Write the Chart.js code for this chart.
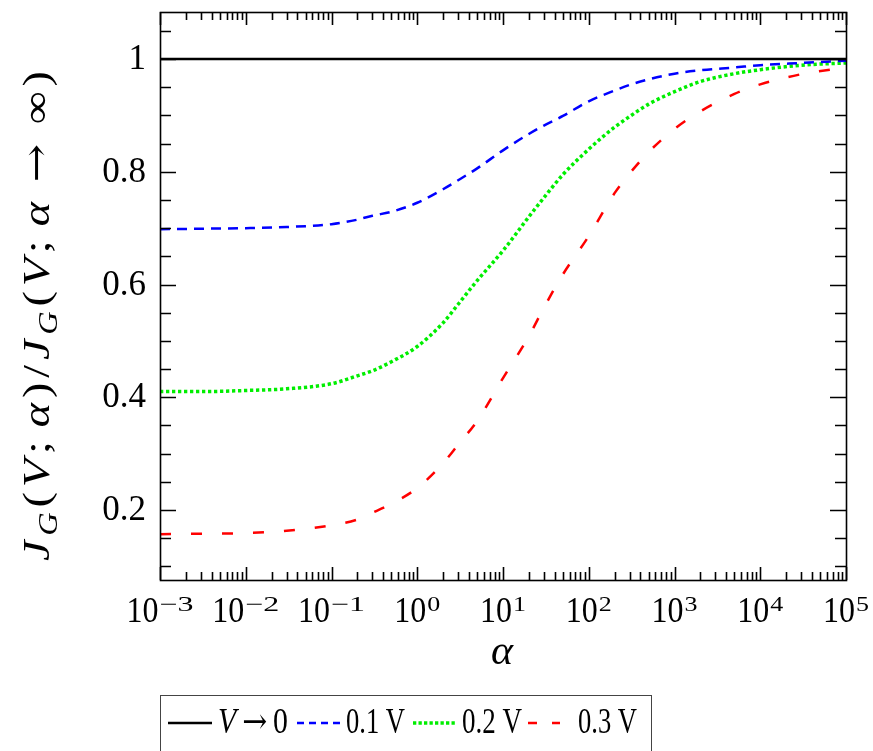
<!DOCTYPE html>
<html>
<head>
<meta charset="utf-8">
<script src="https://cdn.jsdelivr.net/npm/chart.js@4.4.1/dist/chart.umd.min.js"></script>
<style>
  html, body { margin: 0; padding: 0; background: #fff; }
  #wrap { width: 873px; height: 751px; }
</style>
</head>
<body>
<div id="wrap"><canvas id="chart" width="873" height="751"></canvas></div>
<script>
// alpha values (log axis) and the normalised currents
var alphaValues = [0.001, 0.003, 0.01, 0.03, 0.1, 0.2, 0.3, 0.5, 1, 2, 3, 5, 10, 20, 30, 50,
                   100, 200, 300, 500, 1000, 2000, 5000, 10000, 30000, 100000];
var ratioV0  = [1, 1, 1, 1, 1, 1, 1, 1, 1, 1, 1, 1, 1, 1, 1, 1, 1, 1, 1, 1, 1, 1, 1, 1, 1, 1];
var ratio01V = [0.698, 0.699, 0.700, 0.702, 0.707, 0.715, 0.722, 0.729, 0.745, 0.769, 0.785, 0.806, 0.838,
                0.867, 0.882, 0.899, 0.925, 0.944, 0.954, 0.964, 0.974, 0.980, 0.985, 0.989, 0.993, 0.997];
var ratio02V = [0.410, 0.410, 0.412, 0.415, 0.424, 0.438, 0.447, 0.463, 0.490, 0.532, 0.565, 0.607, 0.660,
                0.720, 0.754, 0.795, 0.840, 0.879, 0.898, 0.920, 0.942, 0.960, 0.974, 0.981, 0.989, 0.993];
var ratio03V = [0.157, 0.158, 0.159, 0.163, 0.173, 0.183, 0.195, 0.211, 0.239, 0.283, 0.316, 0.358, 0.434,
                0.508, 0.559, 0.618, 0.686, 0.762, 0.797, 0.835, 0.876, 0.907, 0.938, 0.955, 0.973, 0.985];

var xTickExponents = [-3, -2, -1, 0, 1, 2, 3, 4, 5];
var yTickLabels = [0.2, 0.4, 0.6, 0.8, 1];

var FONT = '"Liberation Serif", "DejaVu Serif", serif';
var ARROW_FONT = '"DejaVu Serif", serif';

function toPoints(ys) {
    return alphaValues.map(function (a, i) { return { x: a, y: ys[i] }; });
}

// draw a list of runs: [text, italic, script(0 normal, -1 sub, 1 sup), family]
function drawRuns(ctx, runs, x, y, size, measureOnly, gap) {
    var cx = x;
    gap = gap || 0;
    runs.forEach(function (r, i) {
        var s = r[2] ? size * 0.7 : size;
        ctx.font = (r[1] ? 'italic ' : '') + s + 'px ' + (r[3] || FONT);
        var dy = r[2] === -1 ? size * 0.22 : (r[2] === 1 ? -size * 0.38 : 0);
        if (!measureOnly) ctx.fillText(r[0], cx, y + dy);
        cx += ctx.measureText(r[0]).width + (i < runs.length - 1 ? gap : 0);
    });
    return cx - x;
}

// same, scaled horizontally to a given width (the TeX figure is not square-pixelled)
function drawRunsFit(ctx, runs, x, y, size, targetW, gap) {
    var w = drawRuns(ctx, runs, 0, 0, size, true, gap);
    ctx.save();
    ctx.translate(x, y);
    ctx.scale(targetW / w, 1);
    drawRuns(ctx, runs, 0, 0, size, false, gap);
    ctx.restore();
}

var axisPlugin = {
    id: 'axisPlugin',
    afterDraw: function (chart) {
        var ctx = chart.ctx;
        var a = chart.chartArea;
        var xs = chart.scales.x, ys = chart.scales.y;
        ctx.save();
        ctx.strokeStyle = '#000';
        ctx.fillStyle = '#000';
        ctx.lineWidth = 1.6;

        // inward ticks, x (log)
        ctx.beginPath();
        for (var e = -3; e <= 5; e++) {
            for (var m = 1; m <= 9; m++) {
                var v = m * Math.pow(10, e);
                if (v > 1e5 * 1.0001) break;
                var px = Math.round(xs.getPixelForValue(v)) + 0.5;
                var len = m === 1 ? 13 : 8;
                ctx.moveTo(px, a.bottom); ctx.lineTo(px, a.bottom - len);
                ctx.moveTo(px, a.top); ctx.lineTo(px, a.top + len);
            }
        }
        // inward ticks, y every 0.05
        for (var k = 2; k <= 21; k++) {
            var val = k * 0.05;
            var py = Math.round(ys.getPixelForValue(val)) + 0.5;
            var l2 = (k % 4 === 0) ? 16 : 11;
            ctx.moveTo(a.left, py); ctx.lineTo(a.left + l2, py);
            ctx.moveTo(a.right, py); ctx.lineTo(a.right - l2, py);
        }
        ctx.stroke();

        // frame
        ctx.strokeRect(a.left + 0.5, a.top + 0.5, a.right - a.left, a.bottom - a.top);

        // x tick labels 10^e
        ctx.textBaseline = 'alphabetic';
        ctx.textAlign = 'left';
        xTickExponents.forEach(function (ex) {
            var cx = xs.getPixelForValue(Math.pow(10, ex));
            var supW = ex < 0 ? 34 : 13;
            var left = cx - (32 + 1 + supW) / 2;
            drawRunsFit(ctx, [['10', false, 0]], left, 622, 36, 32);
            drawRunsFit(ctx, [[(ex < 0 ? '\u2212' : '') + Math.abs(ex), false, 0]], left + 33, 611, 21, supW);
        });

        // y tick labels
        ctx.font = '35px ' + FONT;
        ctx.textAlign = 'right';
        ctx.textBaseline = 'middle';
        yTickLabels.forEach(function (v) {
            ctx.fillText(String(v), 146, ys.getPixelForValue(v) + 1);
        });

        // x title
        ctx.textAlign = 'center';
        ctx.textBaseline = 'alphabetic';
        ctx.font = 'italic 42px ' + FONT;
        ctx.fillText('\u03b1', 502, 664);
        ctx.textAlign = 'left';

        // y title (rotated)
        var titleRuns = [['J', true, 0], ['G', true, -1], ['(', false, 0], ['V', true, 0], [';\u2009', false, 0],
                         ['\u03b1', true, 0], [')', false, 0], ['/', false, 0], ['J', true, 0], ['G', true, -1],
                         ['(', false, 0], ['V', true, 0], [';\u2009', false, 0], ['\u03b1', true, 0],
                         [' \u2192 ', false, 0, ARROW_FONT], ['\u221e', false, 0], [')', false, 0]];
        ctx.save();
        ctx.translate(49, 316);
        ctx.rotate(-Math.PI / 2);
        drawRunsFit(ctx, titleRuns, -245, 0, 38, 490, 4);
        ctx.restore();

        // legend box
        ctx.lineWidth = 1;
        ctx.strokeStyle = '#444';
        ctx.strokeRect(160.5, 695.5, 491, 80);
        var ly = 723;
        var items = [
            { x0: 168, x1: 212, color: '#000', dash: [], w: 2.6, tx: 218, tw: 70,
              runs: [['V', true, 0], ['\u2009\u2192\u2009', false, 0, ARROW_FONT], ['0', false, 0]] },
            { x0: 297, x1: 340, color: '#0000ff', dash: [7, 5], w: 2.5, tx: 346, tw: 59, runs: [['0.1 V', false, 0]] },
            { x0: 413, x1: 455, color: '#00ee00', dash: [3.3, 2.2], w: 3.5, tx: 462, tw: 60, runs: [['0.2 V', false, 0]] },
            { x0: 528, x1: 560, color: '#ff0000', dash: [9, 15], w: 2.5, tx: 578, tw: 59, runs: [['0.3 V', false, 0]] }
        ];
        ctx.textBaseline = 'middle';
        items.forEach(function (it) {
            ctx.beginPath();
            ctx.strokeStyle = it.color;
            ctx.lineWidth = it.w;
            ctx.setLineDash(it.dash);
            ctx.moveTo(it.x0, ly); ctx.lineTo(it.x1, ly);
            ctx.stroke();
            ctx.setLineDash([]);
            ctx.fillStyle = '#000';
            drawRunsFit(ctx, it.runs, it.tx, ly + 1, 35, it.tw);
        });
        ctx.restore();
    }
};

var ctx = document.getElementById('chart');
var config = {
    type: 'line',
    data: {
        datasets: [{
            label: 'V \u2192 0',
            data: toPoints(ratioV0),
            borderColor: '#000000',
            borderWidth: 2.6,
            pointRadius: 0,
            fill: false
        }, {
            label: '0.1 V',
            data: toPoints(ratio01V),
            borderColor: '#0000ff',
            borderWidth: 2.5,
            borderDash: [10, 7],
            pointRadius: 0,
            cubicInterpolationMode: 'monotone',
            fill: false
        }, {
            label: '0.2 V',
            data: toPoints(ratio02V),
            borderColor: '#00ee00',
            borderWidth: 3.5,
            borderDash: [3.3, 2.7],
            borderCapStyle: 'butt',
            pointRadius: 0,
            cubicInterpolationMode: 'monotone',
            fill: false
        }, {
            label: '0.3 V',
            data: toPoints(ratio03V),
            borderColor: '#ff0000',
            borderWidth: 2.5,
            borderDash: [11, 20],
            pointRadius: 0,
            cubicInterpolationMode: 'monotone',
            fill: false
        }]
    },
    options: {
        responsive: false,
        animation: false,
        layout: { padding: { left: 160, top: 12, right: 27, bottom: 171 } },
        plugins: { legend: { display: false }, tooltip: { enabled: false } },
        scales: {
            x: { type: 'logarithmic', min: 0.001, max: 100000, display: false },
            y: { type: 'linear', min: 0.0758, max: 1.0834, display: false }
        }
    },
    plugins: [axisPlugin]
};
window.myLine = new Chart(ctx, config);
</script>
</body>
</html>
